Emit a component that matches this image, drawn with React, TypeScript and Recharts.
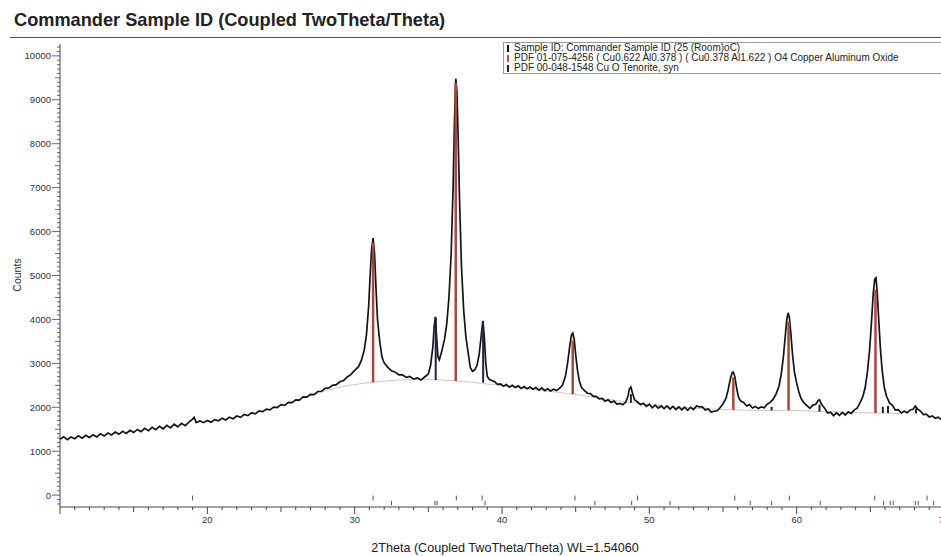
import { LineChart, Line, XAxis, YAxis, ReferenceLine } from 'recharts'

// measured scan: [2theta, counts]
const scan: [number, number][] = [
  [10.0, 1270], [10.25, 1330], [10.5, 1265], [10.75, 1325], [11.0, 1285], [11.25, 1350], [11.5, 1295], [11.75, 1360],
  [12.0, 1310], [12.25, 1375], [12.5, 1325], [12.75, 1395], [13.0, 1345], [13.25, 1415], [13.5, 1370], [13.75, 1435],
  [14.0, 1385], [14.25, 1455], [14.5, 1405], [14.75, 1475], [15.0, 1425], [15.25, 1495], [15.5, 1445], [15.75, 1520],
  [16.0, 1465], [16.25, 1545], [16.5, 1490], [16.75, 1565], [17.0, 1510], [17.25, 1590], [17.5, 1530], [17.75, 1615],
  [18.0, 1555], [18.25, 1635], [18.5, 1580], [18.75, 1660], [19.0, 1730], [19.1, 1770], [19.25, 1650], [19.5, 1690],
  [19.75, 1650], [20.0, 1700], [20.25, 1660], [20.5, 1720], [20.75, 1690], [21.0, 1750], [21.25, 1710], [21.5, 1775],
  [21.75, 1740], [22.0, 1800], [22.25, 1770], [22.5, 1835], [22.75, 1810], [23.0, 1875], [23.25, 1850], [23.5, 1915],
  [23.75, 1900], [24.0, 1955], [24.25, 1940], [24.5, 2005], [24.75, 1995], [25.0, 2060], [25.25, 2045], [25.5, 2110],
  [25.75, 2105], [26.0, 2170], [26.25, 2165], [26.5, 2235], [26.75, 2230], [27.0, 2295], [27.25, 2290], [27.5, 2360],
  [27.75, 2365], [28.0, 2430], [28.25, 2440], [28.5, 2500], [28.75, 2515], [29.0, 2580], [29.25, 2610], [29.5, 2690],
  [29.75, 2750], [30.0, 2840], [30.25, 2920], [30.45, 3060], [30.65, 3300], [30.8, 3650], [30.95, 4300], [31.05, 5000],
  [31.15, 5600], [31.25, 5850], [31.35, 5500], [31.45, 4700], [31.55, 4000], [31.7, 3500], [31.85, 3150], [32.0, 3010],
  [32.25, 2910], [32.5, 2830], [32.75, 2800], [33.0, 2740], [33.25, 2740], [33.5, 2680], [33.75, 2700], [34.0, 2640],
  [34.25, 2670], [34.5, 2620], [34.75, 2690], [35.0, 2760], [35.15, 2950], [35.3, 3350], [35.4, 3850], [35.48, 4060],
  [35.56, 3600], [35.65, 3150], [35.75, 3080], [35.85, 3200], [35.95, 3330], [36.1, 3550], [36.25, 3900], [36.4, 4500],
  [36.55, 5500], [36.68, 7000], [36.78, 8600], [36.86, 9480], [36.94, 9200], [37.02, 8200], [37.12, 6700], [37.25, 5200],
  [37.4, 4200], [37.55, 3600], [37.7, 3250], [37.85, 2900], [38.0, 2820], [38.15, 2850], [38.3, 2950], [38.45, 3200],
  [38.58, 3600], [38.7, 3970], [38.8, 3600], [38.9, 3000], [39.0, 2700], [39.15, 2630], [39.3, 2610], [39.5, 2580],
  [39.7, 2520], [39.9, 2530], [40.1, 2480], [40.3, 2520], [40.5, 2460], [40.7, 2500], [40.9, 2450], [41.1, 2490],
  [41.3, 2430], [41.5, 2470], [41.7, 2420], [41.9, 2460], [42.1, 2410], [42.3, 2450], [42.5, 2390], [42.7, 2440],
  [42.9, 2380], [43.1, 2420], [43.3, 2370], [43.5, 2410], [43.7, 2380], [43.9, 2430], [44.1, 2500], [44.3, 2700],
  [44.45, 3000], [44.6, 3400], [44.72, 3650], [44.8, 3690], [44.9, 3550], [45.0, 3200], [45.12, 2850], [45.25, 2600],
  [45.4, 2450], [45.6, 2380], [45.8, 2320], [46.0, 2310], [46.2, 2250], [46.4, 2250], [46.6, 2190], [46.8, 2200],
  [47.0, 2140], [47.2, 2170], [47.4, 2110], [47.6, 2140], [47.8, 2070], [48.0, 2090], [48.2, 2060], [48.4, 2120],
  [48.55, 2250], [48.65, 2420], [48.75, 2460], [48.85, 2330], [49.0, 2170], [49.2, 2120], [49.4, 2060], [49.6, 2090],
  [49.8, 2020], [50.0, 2070], [50.2, 1990], [50.4, 2050], [50.6, 1980], [50.8, 2030], [51.0, 1970], [51.2, 2030],
  [51.4, 1960], [51.6, 2020], [51.8, 1950], [52.0, 2010], [52.2, 1940], [52.4, 2000], [52.6, 1930], [52.8, 2000],
  [53.0, 1950], [53.2, 2030], [53.4, 2010], [53.6, 2010], [53.8, 1940], [54.0, 1960], [54.2, 1890], [54.4, 1910],
  [54.6, 1920], [54.8, 1990], [55.0, 2080], [55.2, 2200], [55.35, 2400], [55.5, 2650], [55.62, 2790], [55.7, 2800],
  [55.8, 2700], [55.92, 2450], [56.05, 2230], [56.2, 2140], [56.4, 2110], [56.6, 2030], [56.8, 2060], [57.0, 1985],
  [57.2, 2020], [57.4, 1970], [57.6, 2010], [57.8, 1990], [58.0, 2070], [58.2, 2110], [58.4, 2180], [58.6, 2300],
  [58.8, 2480], [58.95, 2750], [59.1, 3150], [59.22, 3600], [59.33, 4000], [59.42, 4150], [59.5, 4050], [59.6, 3700],
  [59.72, 3200], [59.85, 2800], [60.0, 2550], [60.15, 2350], [60.3, 2200], [60.5, 2100], [60.7, 2040], [60.9, 1975],
  [61.1, 2050], [61.3, 2070], [61.45, 2150], [61.55, 2170], [61.7, 2060], [61.9, 1980], [62.1, 1870], [62.3, 1890],
  [62.5, 1810], [62.7, 1875], [62.9, 1815], [63.1, 1885], [63.3, 1825], [63.5, 1895], [63.7, 1860], [63.9, 1935],
  [64.1, 1980], [64.3, 2100], [64.5, 2250], [64.65, 2450], [64.8, 2800], [64.95, 3300], [65.08, 3950], [65.2, 4600],
  [65.3, 4920], [65.38, 4950], [65.46, 4650], [65.56, 4050], [65.68, 3350], [65.8, 2850], [65.95, 2450], [66.1, 2250],
  [66.3, 2100], [66.5, 2045], [66.7, 1935], [66.9, 1945], [67.1, 1870], [67.3, 1910], [67.5, 1875], [67.7, 1940],
  [67.9, 1955], [68.05, 2025], [68.2, 1965], [68.4, 1915], [68.6, 1835], [68.8, 1845], [69.0, 1780], [69.2, 1805],
  [69.4, 1750], [69.6, 1775], [69.8, 1725], [70.0, 1735],
]

// fitted background (thin line)
const background: [number, number][] = [
  [26.5, 2210], [28, 2370], [29.5, 2490], [31.25, 2570], [33, 2620], [35, 2630], [36.86, 2600], [39, 2530],
  [41, 2450], [43, 2370], [44.8, 2300], [47, 2190], [50, 2060], [53, 1980], [55.7, 1940], [57.5, 1930],
  [59.45, 1930], [62, 1900], [65.35, 1870], [67, 1860],
]

// PDF 01-075-4256 sticks: [2theta, from, to]
const cuAlSticks: [number, number, number][] = [
  [31.25, 2570, 5750], [36.86, 2600, 9380], [44.8, 2300, 3520],
  [55.7, 1940, 2680], [59.45, 1930, 3950], [65.35, 1870, 4680],
]

// PDF 00-048-1548 CuO sticks
const cuoSticks: [number, number, number][] = [
  [35.5, 2620, 4050], [38.72, 2560, 3950], [48.75, 2100, 2300], [58.3, 1930, 2010],
  [61.55, 1900, 2060], [65.85, 1870, 2010], [66.2, 1870, 2030], [68.1, 1860, 1970],
]

const cuAlMarks = [19.0, 31.25, 36.9, 38.65, 44.95, 49.2, 55.8, 59.5, 65.3, 68.85]
const cuoMarks = [32.5, 35.45, 35.6, 38.85, 46.3, 48.8, 51.4, 56.85, 58.3, 61.6, 65.9, 66.35, 66.55, 68.05, 68.25, 69.3]

const legendItems = [
  { label: 'Sample ID: Commander Sample ID (25 (Room)oC)', color: '#111111' },
  { label: 'PDF 01-075-4256 ( Cu0.622 Al0.378 ) ( Cu0.378 Al1.622 ) O4 Copper Aluminum Oxide', color: '#b5553a' },
  { label: 'PDF 00-048-1548 Cu O Tenorite, syn', color: '#1c2344' },
]

const FONT = '"Liberation Sans", Arial, Helvetica, sans-serif'

const scanData = scan.map(([angle, counts]) => ({ angle, counts }))
const bgData = background.map(([angle, counts]) => ({ angle, counts }))

const xTicks: number[] = []
for (let t = 10; t <= 70; t++) xTicks.push(t)
const yTicks: number[] = []
for (let t = -200; t <= 10200; t += 100) yTicks.push(t)

function XTick({ x, y, payload }: any) {
  const v = payload.value
  const len = v % 10 === 0 ? 7 : v % 5 === 0 ? 5 : 3
  return (
    <g>
      <line x1={x} x2={x} y1={y} y2={y + len} stroke="#444" strokeWidth={1} />
      {v % 10 === 0 && v > 10 && (
        <text x={x} y={y + 16} textAnchor="middle" fontSize={9.5} fill="#333" fontFamily={FONT}>
          {v}
        </text>
      )}
    </g>
  )
}

function YTick({ x, y, payload }: any) {
  const v = payload.value
  const len = v % 1000 === 0 ? 8 : v % 500 === 0 ? 5 : 3
  return (
    <g>
      <line x1={x - len} x2={x} y1={y} y2={y} stroke="#444" strokeWidth={0.8} />
      {v % 1000 === 0 && v >= 0 && (
        <text x={x - 9} y={y + 3.5} textAnchor="end" fontSize={9.5} fill="#333" fontFamily={FONT}>
          {v}
        </text>
      )}
    </g>
  )
}

export default function App() {
  return (
    <div style={{ position: 'fixed', left: 0, top: 0, width: 941, height: 556, overflow: 'hidden', background: '#fff', fontFamily: FONT }}>
      <div style={{ position: 'absolute', left: 14, top: 10, fontSize: 18.2, fontWeight: 'bold', color: '#222', whiteSpace: 'nowrap' }}>
        Commander Sample ID (Coupled TwoTheta/Theta)
      </div>
      <div style={{ position: 'absolute', left: 10, top: 37, width: 931, height: 0, borderTop: '1.5px solid #555' }} />

      <LineChart width={960} height={556} margin={{ top: 44, right: 16, bottom: 0, left: 0 }}>
        <XAxis
          dataKey="angle"
          type="number"
          domain={[10, 70]}
          ticks={xTicks}
          interval={0}
          allowDataOverflow
          height={49}
          tickSize={0}
          tickMargin={0}
          tick={(p: any) => <XTick {...p} />}
          axisLine={{ stroke: '#444', strokeWidth: 1 }}
        />
        <YAxis
          type="number"
          domain={[-270, 10270]}
          ticks={yTicks}
          interval={0}
          allowDataOverflow
          width={60}
          tickSize={0}
          tickMargin={0}
          tick={(p: any) => <YTick {...p} />}
          axisLine={{ stroke: '#444', strokeWidth: 1 }}
        />
        <Line
          data={bgData}
          dataKey="counts"
          type="monotone"
          stroke="#d9c2c2"
          strokeWidth={1}
          dot={false}
          isAnimationActive={false}
        />
        <Line
          data={scanData}
          dataKey="counts"
          type="linear"
          stroke="#141414"
          strokeWidth={1.7}
          dot={false}
          isAnimationActive={false}
        />
        {cuAlSticks.map(([a, lo, hi], i) => (
          <ReferenceLine key={'r' + i} segment={[{ x: a, y: lo }, { x: a, y: hi }]} stroke="#a8473a" strokeWidth={2.5} />
        ))}
        {cuoSticks.map(([a, lo, hi], i) => (
          <ReferenceLine key={'c' + i} segment={[{ x: a, y: lo }, { x: a, y: hi }]} stroke="#1c2344" strokeWidth={2} />
        ))}
        {cuAlMarks.map((a, i) => (
          <ReferenceLine key={'m' + i} segment={[{ x: a, y: -10 }, { x: a, y: -120 }]} stroke="#555" strokeWidth={1} />
        ))}
        {cuoMarks.map((a, i) => (
          <ReferenceLine key={'n' + i} segment={[{ x: a, y: -130 }, { x: a, y: -230 }]} stroke="#555" strokeWidth={1} />
        ))}
      </LineChart>

      <div
        style={{
          position: 'absolute', left: 503, top: 42, width: 460, height: 30,
          border: '1px solid #999', background: '#fff', fontSize: 10, lineHeight: '10px', paddingTop: 0,
        }}
      >
        {legendItems.map((it) => (
          <div key={it.label} style={{ position: 'relative', height: 10, paddingLeft: 10, whiteSpace: 'nowrap', color: '#222' }}>
            <span style={{ position: 'absolute', left: 3, top: 2, width: 2, height: 7, background: it.color }} />
            {it.label}
          </div>
        ))}
      </div>

      <div
        style={{
          position: 'absolute', left: 17, top: 275, transform: 'translate(-50%, -50%) rotate(-90deg)',
          fontSize: 10.5, color: '#333', whiteSpace: 'nowrap',
        }}
      >
        Counts
      </div>
      <div
        style={{
          position: 'absolute', left: 505, top: 548, transform: 'translate(-50%, -50%)',
          fontSize: 12.6, color: '#222', whiteSpace: 'nowrap',
        }}
      >
        2Theta (Coupled TwoTheta/Theta) WL=1.54060
      </div>
    </div>
  )
}
